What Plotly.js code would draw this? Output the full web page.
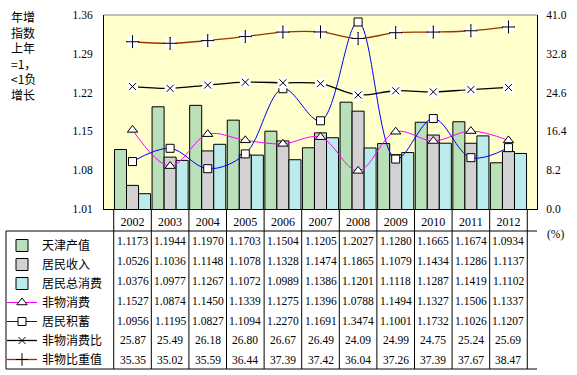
<!DOCTYPE html>
<html>
<head>
<meta charset="utf-8">
<script src="https://cdn.plot.ly/plotly-3.0.1.min.js"></script>
<style>html,body{margin:0;padding:0;background:#fff;}#chart{width:577px;height:375px;}</style>
</head>
<body>
<div id="chart"></div>
<script>
// ---- data ----
var years = ['2002','2003','2004','2005','2006','2007','2008','2009','2010','2011','2012'];
var tjOutput = [1.1173,1.1944,1.1970,1.1703,1.1504,1.1205,1.2027,1.1280,1.1665,1.1674,1.0934];
var income = [1.0526,1.1036,1.1148,1.1078,1.1328,1.1474,1.1865,1.1079,1.1434,1.1286,1.1137];
var consumption = [1.0376,1.0977,1.1267,1.1072,1.0989,1.1386,1.1201,1.1118,1.1287,1.1419,1.1102];
var nonMatCons = [1.1527,1.0874,1.1450,1.1339,1.1275,1.1396,1.0788,1.1494,1.1327,1.1506,1.1337];
var savings = [1.0956,1.1195,1.0827,1.1094,1.2270,1.1691,1.3474,1.1001,1.1732,1.1026,1.1207];
var nonMatRatio = [25.87,25.49,26.18,26.80,26.67,26.49,24.09,24.99,24.75,25.24,25.69];
var nonMatShare = [35.35,35.02,35.59,36.44,37.39,37.42,36.04,37.26,37.39,37.67,38.47];
var seriesNames = ['天津产值','居民收入','居民总消费','非物消费','居民积蓄','非物消费比','非物比重值'];

var CJK = '"Noto Sans CJK SC", "Noto Sans", sans-serif';
var SERIF = '"Liberation Serif", "Times New Roman", serif';

// ---- geometry (pixels) ----
var W = 577, H = 375;
var mL = 104, mR = 40, mT = 15, mB = 166;
var plotW = W - mL - mR, plotH = H - mT - mB;
function px2paperX(px){ return (px - mL) / plotW; }
function px2paperY(py){ return (H - mB - py) / plotH; }
var rowTop = 231, rowH = 19.8, tableBottom = 369, tableLeft = 6;

var traces = [];
function barTrace(name, vals, color){
  return {type:'bar', name:name, x:years, y:vals, yaxis:'y',
    marker:{color:color, line:{color:'#000', width:1}}, legendgroup:name};
}
traces.push(barTrace(seriesNames[0], tjOutput, '#B9E0B9'));
traces.push(barTrace(seriesNames[1], income, '#D2D2D2'));
traces.push(barTrace(seriesNames[2], consumption, '#BCEBEC'));

traces.push({type:'scatter', mode:'lines+markers', name:seriesNames[3], x:years, y:nonMatCons, yaxis:'y',
  line:{color:'#FF00FF', width:1, shape:'spline', smoothing:1},
  marker:{symbol:'triangle-up', size:9, color:'#fff', line:{color:'#000', width:1}}, legendgroup:seriesNames[3]});
traces.push({type:'scatter', mode:'lines+markers', name:seriesNames[4], x:years, y:savings, yaxis:'y',
  line:{color:'#0000FF', width:1, shape:'spline', smoothing:1},
  marker:{symbol:'square', size:8, color:'#fff', line:{color:'#000', width:1}}, legendgroup:seriesNames[4]});

function rightSeries(name, vals, lineColor, sym, sz){
  traces.push({type:'scatter', mode:'lines+markers', name:name, x:years, y:vals, yaxis:'y2',
    line:{color:lineColor, width:1.3, shape:'spline', smoothing:1},
    marker:{symbol:sym, size:sz, color:'#000', line:{color:'#000', width:1}}, legendgroup:name});
  traces.push({type:'scatter', mode:'markers', x:years, y:vals, yaxis:'y2', showlegend:false, hoverinfo:'skip',
    marker:{symbol:'square', size:11, color:'#fff'}});
  traces.push({type:'scatter', mode:'markers', x:years, y:vals, yaxis:'y2', showlegend:false, hoverinfo:'skip',
    marker:{symbol:sym, size:sz, color:'#000', line:{color:'#000', width:1}}});
}
rightSeries(seriesNames[5], nonMatRatio, '#000000', 'x-thin', 7);
rightSeries(seriesNames[6], nonMatShare, '#993300', 'cross-thin', 9);

// ---- table shapes & annotations ----
var shapes = [], annotations = [];
var line = {color:'#000', width:1};
// plot border (top/right grey)
shapes.push({type:'line', xref:'paper', yref:'paper', x0:0, x1:1, y0:1, y1:1, line:{color:'#808080', width:1}});
// category boundaries
for (var i = 0; i <= years.length; i++){
  shapes.push({type:'line', xref:'x', yref:'paper', x0:i-0.5, x1:i-0.5, y0:0, y1:px2paperY(tableBottom), line:line});
}
shapes.push({type:'line', xref:'paper', yref:'paper', x0:px2paperX(tableLeft), x1:1, y0:px2paperY(rowTop), y1:px2paperY(rowTop), line:line});
shapes.push({type:'line', xref:'paper', yref:'paper', x0:px2paperX(tableLeft), x1:1, y0:px2paperY(tableBottom), y1:px2paperY(tableBottom), line:line});
shapes.push({type:'line', xref:'paper', yref:'paper', x0:px2paperX(tableLeft), x1:px2paperX(tableLeft), y0:px2paperY(rowTop), y1:px2paperY(tableBottom), line:line});

var rows = [tjOutput, income, consumption, nonMatCons, savings, nonMatRatio, nonMatShare];
var decs = [4,4,4,4,4,2,2];
rows.forEach(function(r, ri){
  var yc = px2paperY(rowTop + rowH*(ri+0.5) + 0.5);
  r.forEach(function(v, ci){
    annotations.push({xref:'x', yref:'paper', x:ci, y:yc, text:v.toFixed(decs[ri]), showarrow:false,
      xanchor:'center', yanchor:'middle', font:{family:SERIF, size:11.5, color:'#000'}});
  });
});
annotations.push({xref:'paper', yref:'paper', x:px2paperX(545), y:px2paperY(234), text:'(%)', showarrow:false,
  xanchor:'left', yanchor:'middle', font:{family:SERIF, size:11.5, color:'#000'}});
annotations.push({xref:'paper', yref:'paper', x:px2paperX(9), y:px2paperY(6), text:'年增<br>指数<br>上年<br>=1，<br>&lt;1负<br>增长',
  showarrow:false, xanchor:'left', yanchor:'top', align:'left', font:{family:CJK, size:12, color:'#000'}});

var layout = {
  width:W, height:H,
  margin:{l:mL, r:mR, t:mT, b:mB, autoexpand:false},
  paper_bgcolor:'#fff', plot_bgcolor:'#FFFFCC',
  showlegend:true,
  legend:{x:px2paperX(2), y:px2paperY(rowTop), xanchor:'left', yanchor:'top', bgcolor:'rgba(0,0,0,0)',
    font:{family:CJK, size:12, color:'#000'}, tracegroupgap:0.8, traceorder:'normal', itemwidth:30},
  barmode:'group', bargap:0.04, bargroupgap:0,
  xaxis:{type:'category', showgrid:false, zeroline:false, showline:true, linecolor:'#000', linewidth:1,
    ticks:'', tickfont:{family:SERIF, size:12, color:'#000'}, ticklabelstandoff:2},
  yaxis:{range:[1.01,1.36], dtick:0.07, tick0:1.01, tickformat:'.2f', showgrid:false, zeroline:false,
    showline:true, linecolor:'#000', linewidth:1, ticks:'', ticklabelstandoff:8,
    tickfont:{family:SERIF, size:11.5, color:'#000'}},
  yaxis2:{range:[0,41], dtick:8.2, tick0:0, tickformat:'.1f', overlaying:'y', side:'right', showgrid:false,
    zeroline:false, showline:true, linecolor:'#000', linewidth:1, ticks:'', ticklabelstandoff:6,
    tickfont:{family:SERIF, size:11.5, color:'#000'}},
  shapes:shapes, annotations:annotations
};
Plotly.newPlot('chart', traces, layout, {staticPlot:true, displayModeBar:false});
</script>
</body>
</html>
